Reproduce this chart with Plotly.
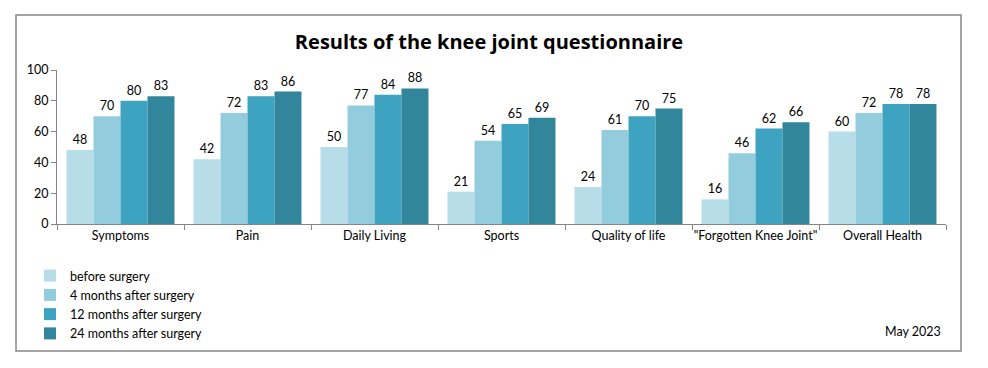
import plotly.graph_objects as go

categories = ["Symptoms", "Pain", "Daily Living", "Sports", "Quality of life",
              "\"Forgotten Knee Joint\"", "Overall Health"]
series_names = ["before surgery", "4 months after surgery",
                "12 months after surgery", "24 months after surgery"]
before = [48, 42, 50, 21, 24, 16, 60]
m4 = [70, 72, 77, 54, 61, 46, 72]
m12 = [80, 83, 84, 65, 70, 62, 78]
m24 = [83, 86, 88, 69, 75, 66, 78]
colors = ["#B7DEE8", "#93CDDD", "#3DA3C1", "#31869B"]

# page body has an 8px margin, so work in screen coords minus 8
O = 8
W, H = 988 - O, 368 - O
ml = 57 - O
mt = 70 - O
plot_bottom = 224 - O
plot_right = 946 - O
mb = H - plot_bottom
mr = W - plot_right
pw, ph = W - ml - mr, H - mt - mb

font = "Lato"
fig = go.Figure()
for name, vals, c in zip(series_names, [before, m4, m12, m24], colors):
    fig.add_trace(go.Bar(
        x=categories, y=vals, name=name, marker_color=c, marker_line_width=0,
        text=[str(v) for v in vals], textposition="outside",
        textfont=dict(size=12.5, color="#000000", family=font),
        cliponaxis=False,
    ))

def px(xs):
    return (xs - O - ml) / pw

def py(ys):
    return (H - mb - (ys - O)) / ph

fig.update_layout(
    width=W, height=H,
    margin=dict(l=ml, r=mr, t=mt, b=mb, autoexpand=False),
    paper_bgcolor="white", plot_bgcolor="white",
    barmode="group", bargap=0.15, bargroupgap=0,
    font=dict(family=font, size=12.5, color="#000000"),
    title=dict(text="<b>Results of the knee joint questionnaire</b>",
               x=(489 - O) / W, xref="container", y=1 - (42 - O) / H,
               yref="container", xanchor="center", yanchor="middle",
               font=dict(size=20, family="Open Sans", color="#000000")),
    showlegend=True,
    legend=dict(x=px(30), y=py(261), xref="paper", yref="paper",
                xanchor="left", yanchor="top", bgcolor="rgba(0,0,0,0)",
                font=dict(size=12.5, family=font), tracegroupgap=0,
                itemwidth=30),
    xaxis=dict(showline=True, linecolor="#868686", linewidth=1,
               ticks="outside", tickson="boundaries", ticklen=5,
               tickcolor="#868686", tickfont=dict(size=12.5), tickangle=0,
               showgrid=False),
    yaxis=dict(range=[0, 100], dtick=20, showline=True, linecolor="#868686",
               linewidth=1, ticks="outside", ticklen=5, tickcolor="#868686",
               showgrid=False, zeroline=False, tickfont=dict(size=12.5)),
    shapes=[dict(type="rect", xref="paper", yref="paper",
                 x0=px(16), x1=px(961), y0=py(351), y1=py(15),
                 line=dict(color="#868686", width=1.5), fillcolor="rgba(0,0,0,0)",
                 layer="below")],
    annotations=[dict(text="May 2023", xref="paper", yref="paper",
                      x=px(943), y=py(331), xanchor="right", yanchor="middle",
                      showarrow=False, font=dict(size=12.5, family=font))],
)

fig.write_html("out.html")
